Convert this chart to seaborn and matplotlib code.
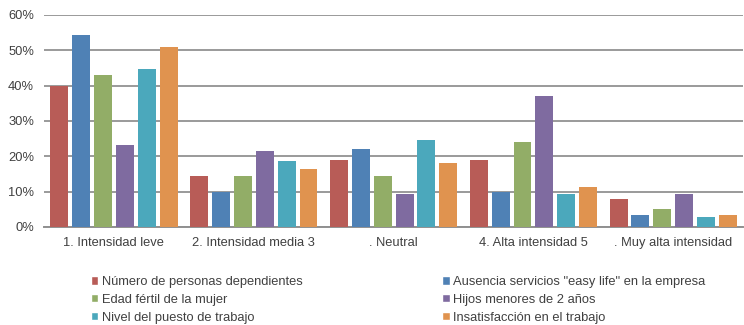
import pandas as pd
import matplotlib.pyplot as plt
import seaborn as sns
from matplotlib.patches import Patch
from matplotlib.ticker import PercentFormatter

# Data
categories = ["1. Intensidad leve", "2. Intensidad media 3", ". Neutral",
              "4. Alta intensidad 5", ". Muy alta intensidad"]
series = ["Número de personas dependientes",
          "Ausencia servicios \"easy life\" en la empresa",
          "Edad fértil de la mujer",
          "Hijos menores de 2 años",
          "Nivel del puesto de trabajo",
          "Insatisfacción en el trabajo"]
dependientes = [40, 14.3, 19, 19, 8]
easy_life = [54.3, 10, 22, 10, 3.3]
edad_fertil = [43, 14.3, 14.3, 24, 5]
hijos = [23.2, 21.5, 9.3, 37, 9.3]
nivel_puesto = [44.8, 18.6, 24.7, 9.3, 2.9]
insatisfaccion = [51, 16.3, 18, 11.3, 3.3]
colors = ["#B85C57", "#4F81B5", "#92AD67", "#7F6BA0", "#4BA8BC", "#E0934F"]

values = [dependientes, easy_life, edad_fertil, hijos, nivel_puesto, insatisfaccion]
rows = []
for name, vals in zip(series, values):
    for cat, v in zip(categories, vals):
        rows.append({"categoria": cat, "serie": name, "valor": v})
df = pd.DataFrame(rows)

sns.set_style("white")
plt.rcParams['font.family'] = ['Liberation Sans', 'DejaVu Sans']
text_color = "#404040"

fig = plt.figure(figsize=(7.44, 3.25), dpi=100)
ax = fig.add_axes([0.059, 0.302, 0.94, 0.652])

sns.barplot(data=df, x="categoria", y="valor", hue="serie", order=categories,
            hue_order=series, palette=colors, width=0.94, gap=0.18,
            saturation=1, edgecolor="none", ax=ax, legend=False, zorder=3)

ax.set_ylim(0, 60)
ax.set_yticks(range(0, 61, 10))
ax.yaxis.set_major_formatter(PercentFormatter(decimals=0))
ax.grid(axis="y", color="#9A9A9A", linewidth=1.4, zorder=0)
ax.set_axisbelow(True)
for s in ["top", "right", "left"]:
    ax.spines[s].set_visible(False)
ax.spines["bottom"].set_color("#909090")
ax.spines["bottom"].set_linewidth(1.4)
ax.set_xlabel("")
ax.set_ylabel("")
ax.tick_params(axis="both", length=0, labelsize=9.3, colors=text_color, pad=7)
ax.set_xlim(-0.5, 4.5)

handles = [Patch(facecolor=c, label=s) for c, s in zip(colors, series)]
order = [0, 2, 4, 1, 3, 5]
fig.legend([handles[i] for i in order], [series[i] for i in order],
           ncol=2, loc="lower left", bbox_to_anchor=(0.115, -0.012),
           borderaxespad=0.0, frameon=False, fontsize=9.3,
           handlelength=0.6, handleheight=0.6, handletextpad=0.25,
           columnspacing=10.8, labelspacing=0.45, labelcolor=text_color)

fig.savefig("out.png", dpi=100)
